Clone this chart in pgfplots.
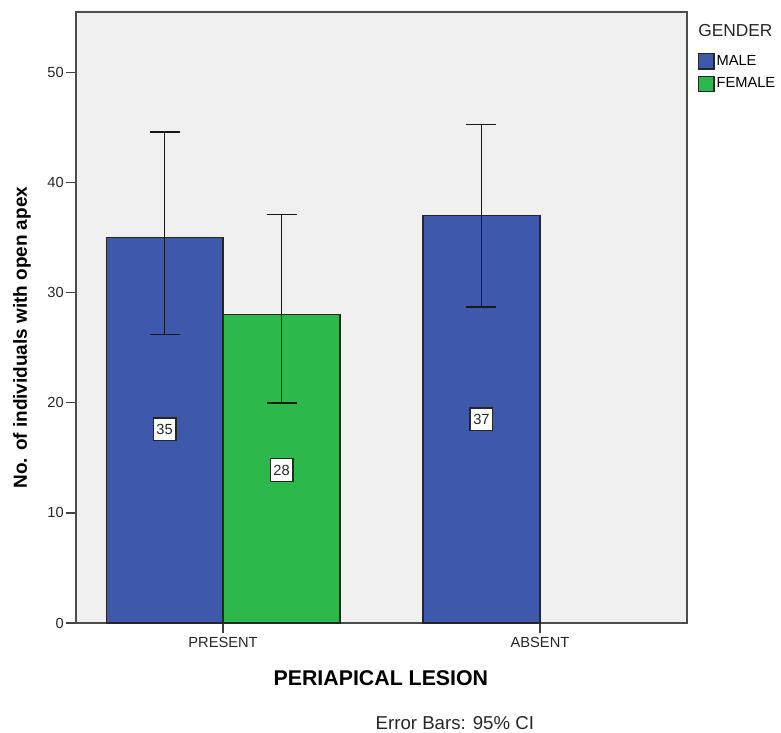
\documentclass[border=0pt]{standalone}
\usepackage{pgfplots}
\pgfplotsset{compat=1.18}
\usepackage{fontspec}
\setmainfont{Liberation Sans}
\definecolor{maleblue}{HTML}{3E58AC}
\definecolor{femgreen}{HTML}{2DB84B}
\definecolor{bggray}{HTML}{F0F0F0}
\begin{document}
\begin{tikzpicture}[x=1pt,y=1pt]
\begin{axis}[
  name=ax,
  scale only axis,
  width=458.25pt, height=458.25pt,
  xmin=-0.464, xmax=1.464,
  ymin=0, ymax=55.5,
  axis background/.style={fill=bggray},
  axis line style={black!70, line width=1.2pt},
  xtick={0,1}, xticklabels={PRESENT,ABSENT},
  ytick={0,10,20,30,40,50},
  tick align=outside,
  xtick pos=bottom, ytick pos=left,
  major tick length=7.5pt,
  tick style={black!75, line width=0.9pt},
  tick label style={font=\fontsize{11}{13}\selectfont, text=black!85},
  yticklabel style={inner sep=1.5pt},
  /pgf/number format/assume math mode=true,
  xlabel={\textbf{PERIAPICAL LESION}},
  xlabel style={font=\fontsize{16}{18}\selectfont, at={(axis description cs:0.499,-0.090)}, anchor=center},
  ylabel={\textbf{No. of individuals with open apex}},
  ylabel style={font=\fontsize{14.2}{16}\selectfont, at={(axis description cs:-0.0884,0.467)}, anchor=center},
  legend style={draw=none, fill=none, at={(axis description cs:1.018,0.933)}, anchor=north west,
    font=\fontsize{11}{13}\selectfont, row sep=4.5pt, inner sep=0pt, outer sep=0pt,
    nodes={inner sep=1.5pt},
    cells={anchor=west}},
  legend image code/.code={\draw[#1,draw=black!85,line width=0.9pt] (0pt,-5.8pt) rectangle (11.5pt,5.8pt);},
  clip=false,
]
\addplot[ybar, bar width=0.369, bar shift=0pt, fill=maleblue, draw=black!85, line width=0.9pt,
  error bars/.cd, y dir=both, y explicit,
  error bar style={black!90, line width=1.1pt},
  error mark options={rotate=90, mark size=11.25pt, line width=1.1pt, black!90}]
  coordinates {(-0.1845,35) += (0,9.6) -= (0,8.8)
               (0.8155,37) += (0,8.3) -= (0,8.3)};
\addlegendentry{MALE}
\addplot[ybar, bar width=0.369, bar shift=0pt, fill=femgreen, draw=black!85, line width=0.9pt,
  error bars/.cd, y dir=both, y explicit,
  error bar style={black!90, line width=1.1pt},
  error mark options={rotate=90, mark size=11.25pt, line width=1.1pt, black!90}]
  coordinates {(0.1845,28) += (0,9.1) -= (0,8.0)};
\addlegendentry{FEMALE}
\addplot[forget plot, draw=none, mark=none, point meta=explicit,
  nodes near coords={\pgfmathprintnumber{\pgfplotspointmeta}},
  nodes near coords align={center},
  every node near coord/.append style={fill=white, draw=black!85, line width=1pt,
    inner sep=0pt, minimum width=17pt, minimum height=17pt,
    font=\fontsize{11}{13}\selectfont, text=black!85, anchor=center}]
  coordinates {(-0.1845,17.6) [35] (0.1845,13.9) [28] (0.8155,18.5) [37]};
\node[font=\fontsize{13}{15}\selectfont, text=black!85, anchor=west, inner sep=0pt] at (axis description cs:1.018,0.969) {GENDER};
\node[font=\fontsize{14}{16}\selectfont, text=black!85, anchor=center] at (axis description cs:0.620,-0.1637) {Error Bars: 95\% CI};
\coordinate (bl) at (rel axis cs:0,0);
\coordinate (tr) at (rel axis cs:1,1);
\end{axis}
\pgfresetboundingbox
\path ([shift={(-57pt,-82.5pt)}]bl) rectangle ([shift={(70.5pt,9pt)}]tr);
\end{tikzpicture}
\end{document}
